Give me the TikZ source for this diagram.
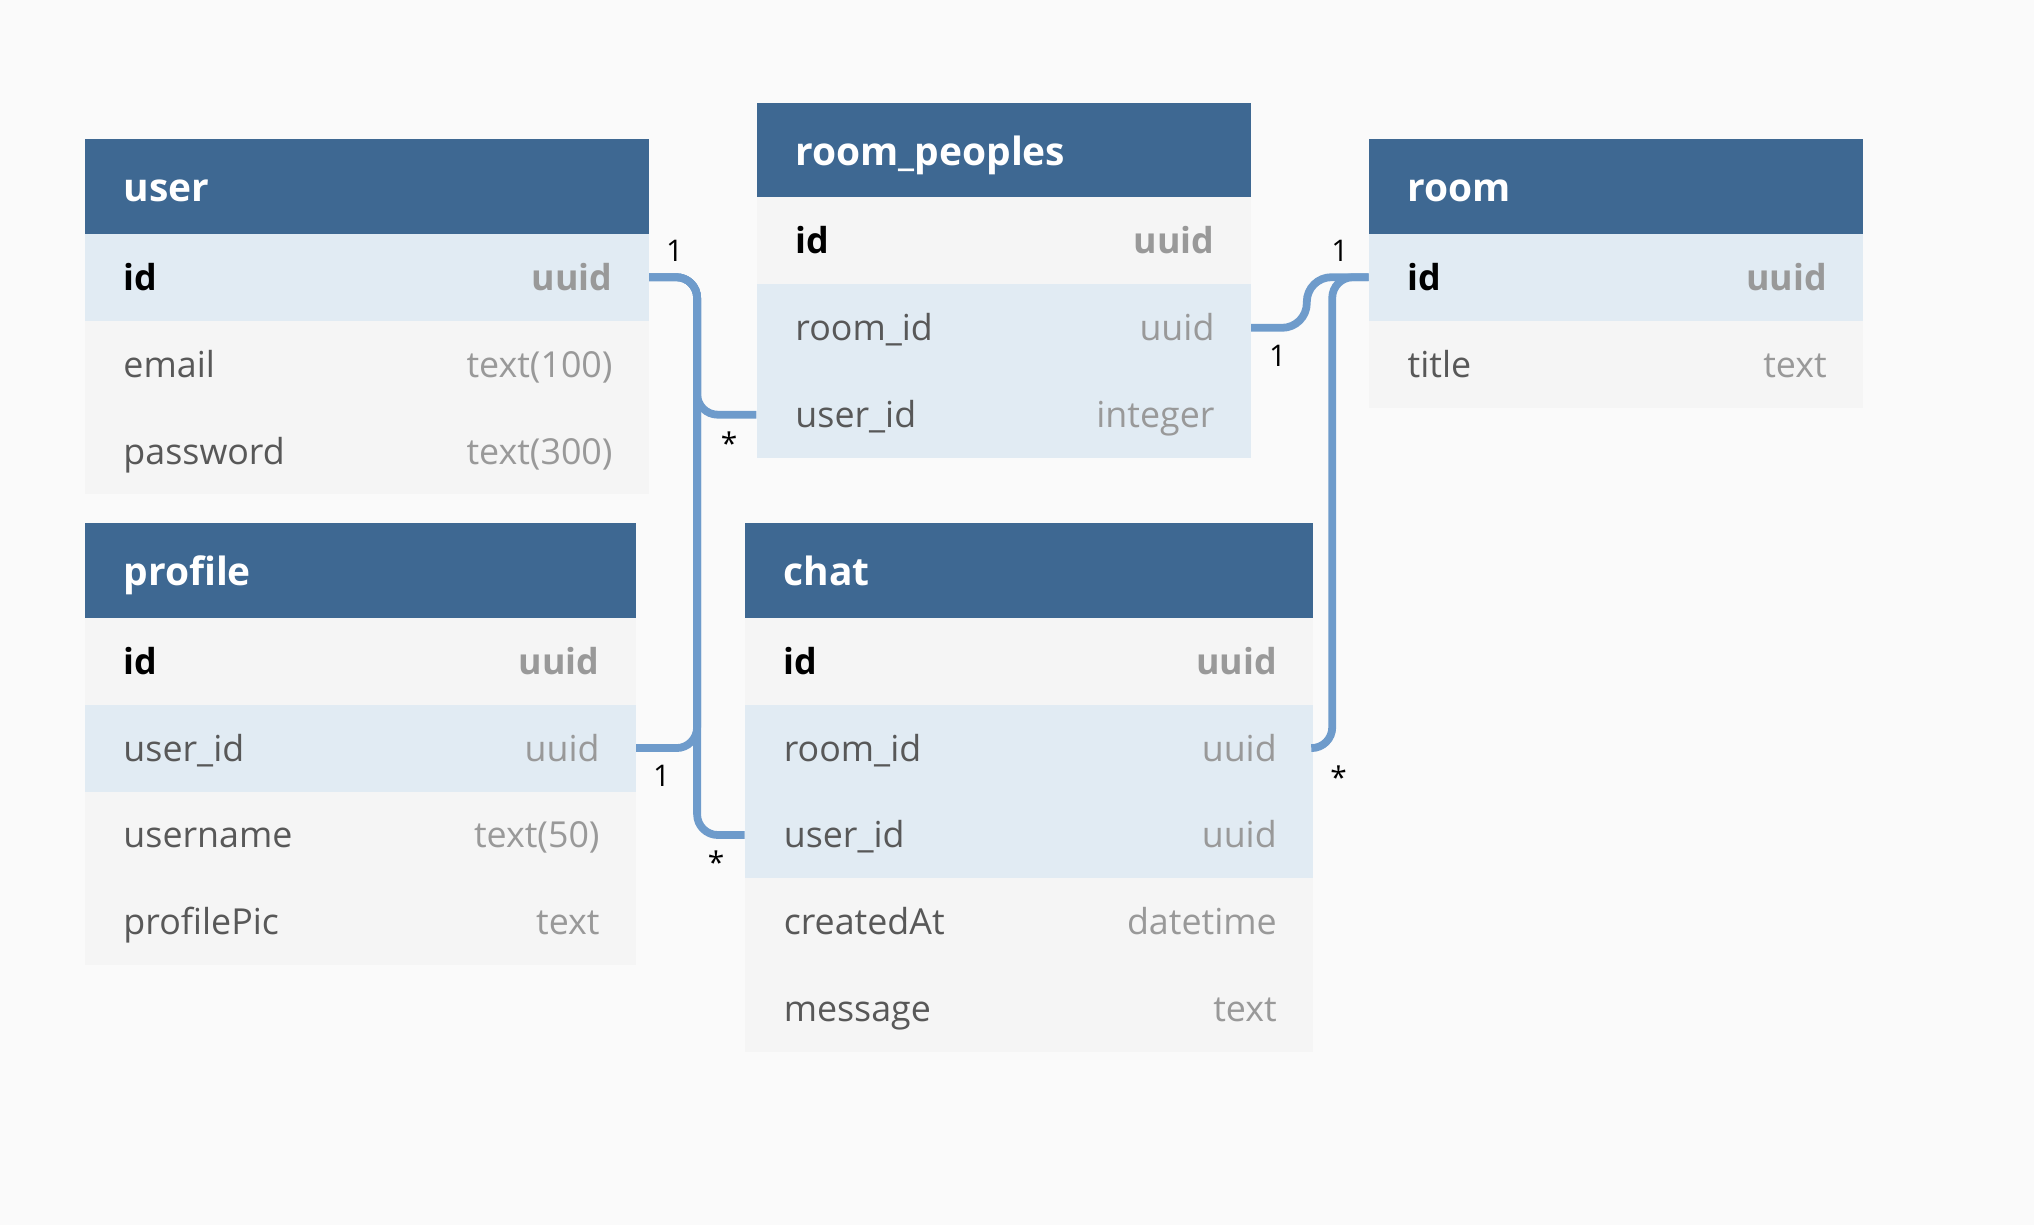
\documentclass[tikz,border=0pt]{standalone}
\usepackage{fontspec}
\setmainfont{Open Sans}
\definecolor{bgc}{HTML}{FAFAFA}
\definecolor{hdrc}{HTML}{3E6892}
\definecolor{rowb}{HTML}{E1EBF3}
\definecolor{rowg}{HTML}{F5F5F5}
\definecolor{relc}{HTML}{6E9BCB}
\definecolor{typec}{HTML}{999999}
\definecolor{namec}{HTML}{585858}
\tikzset{
  hdr/.style={fill=hdrc, draw=none, inner sep=0pt},
  rb/.style={fill=rowb, draw=none, inner sep=0pt},
  rg/.style={fill=rowg, draw=none, inner sep=0pt},
  hdrtext/.style={text=white, font=\fontsize{30}{36}\selectfont\bfseries, inner sep=0pt},
  colname/.style={text=namec, font=\fontsize{27.6}{32}\selectfont, inner sep=0pt},
  coltype/.style={text=typec, font=\fontsize{27.6}{32}\selectfont, inner sep=0pt},
  rel/.style={draw=relc, line width=6pt, rounded corners=16pt},
  card/.style={font=\fontsize{23}{26}\selectfont, text=black, inner sep=0pt},
}
\newcommand{\ehead}[5]{%
  \node[hdr, anchor=north west, minimum width=#4pt, minimum height=73pt] (#1) at (#2,#3) {};
  \node[hdrtext, anchor=base west] (#1-t) at ([xshift=30pt, yshift=-11.5pt]#1.west) {#5};}
\newcommand{\erow}[7]{%
  \node[#5, anchor=north west, minimum width=#4pt, minimum height=67pt] (#1) at (#2,#3) {};
  \node[colname, anchor=base west] (#1-n) at ([xshift=30pt, yshift=-10pt]#1.west) {#6};
  \node[coltype, anchor=base east] (#1-y) at ([xshift=-28pt, yshift=-10pt]#1.east) {#7};}
\begin{document}
\begin{tikzpicture}[x=1pt, y=-1pt]
\fill[bgc] (0,0) rectangle (1568,944);
\useasboundingbox (0,0) rectangle (1568,944);
% user
\ehead{user}{65}{107}{435}{user}
\erow{user-id}{65}{180}{435}{rb}{\bfseries\color{black}id}{\bfseries uuid}
\erow{user-email}{65}{247}{435}{rg}{email}{text(100)}
\erow{user-pw}{65}{314}{435}{rg}{password}{text(300)}
% profile
\ehead{pr}{65}{403}{425}{profile}
\erow{pr-id}{65}{476}{425}{rg}{\bfseries\color{black}id}{\bfseries uuid}
\erow{pr-user}{65}{543}{425}{rb}{user\_id}{uuid}
\erow{pr-name}{65}{610}{425}{rg}{username}{text(50)}
\erow{pr-pic}{65}{677}{425}{rg}{profilePic}{text}
% room_peoples
\ehead{rp}{583}{79}{381}{room\_peoples}
\erow{rp-id}{583}{152}{381}{rg}{\bfseries\color{black}id}{\bfseries uuid}
\erow{rp-room}{583}{219}{381}{rb}{room\_id}{uuid}
\erow{rp-user}{583}{286}{381}{rb}{user\_id}{integer}
% room
\ehead{room}{1055}{107}{381}{room}
\erow{room-id}{1055}{180}{381}{rb}{\bfseries\color{black}id}{\bfseries uuid}
\erow{room-title}{1055}{247}{381}{rg}{title}{text}
% chat
\ehead{chat}{574}{403}{438}{chat}
\erow{chat-id}{574}{476}{438}{rg}{\bfseries\color{black}id}{\bfseries uuid}
\erow{chat-room}{574}{543}{438}{rb}{room\_id}{uuid}
\erow{chat-user}{574}{610}{438}{rb}{user\_id}{uuid}
\erow{chat-at}{574}{677}{438}{rg}{createdAt}{datetime}
\erow{chat-msg}{574}{744}{438}{rg}{message}{text}
% relations
\draw[rel] (user-id.east) -- ++(37,0) |- (rp-user.west);
\draw[rel] (user-id.east) -- ++(37,0) |- (pr-user.east);
\draw[rel] (user-id.east) -- ++(37,0) |- (chat-user.west);
\draw[rel, rounded corners=19pt] (rp-room.east) -- ++(43,0) |- (room-id.west);
\draw[rel] (room-id.west) -- ++(-28,0) |- (chat-room.east);
% cardinalities
\node[card] (c1) at (520,193) {1};
\node[card] (c2) at (562,342) {*};
\node[card] (c3) at (510,598) {1};
\node[card] (c4) at (552,665) {*};
\node[card] (c5) at (1033,193) {1};
\node[card] (c6) at (985,274) {1};
\node[card] (c7) at (1032,599) {*};
\end{tikzpicture}
\end{document}
